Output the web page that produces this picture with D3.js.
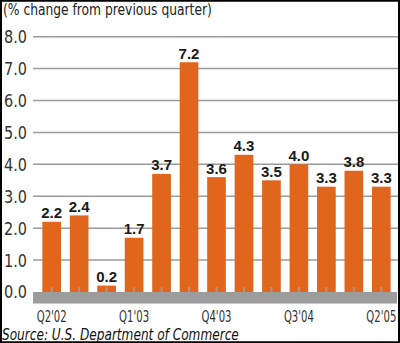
<!DOCTYPE html>
<html>
<head>
<meta charset="utf-8">
<script src="https://cdn.jsdelivr.net/npm/d3@7/dist/d3.min.js"></script>
<style>
  html, body { margin: 0; padding: 0; background: #fff; }
  svg { display: block; }
</style>
</head>
<body>
<script>
const quarters = ["Q2'02","Q3'02","Q4'02","Q1'03","Q2'03","Q3'03","Q4'03","Q1'04","Q2'04","Q3'04","Q4'04","Q1'05","Q2'05"];
const values = [2.2, 2.4, 0.2, 1.7, 3.7, 7.2, 3.6, 4.3, 3.5, 4.0, 3.3, 3.8, 3.3];
const xTickLabels = ["Q2'02","Q1'03","Q4'03","Q3'04","Q2'05"];
const yTicks = [0, 1, 2, 3, 4, 5, 6, 7, 8];
const titleText = "(% change from previous quarter)";
const sourceText = "Source:  U.S. Department of Commerce";

const W = 400, H = 343;
const narrow = "'Liberation Sans Narrow', 'Arial Narrow', 'DejaVu Sans Condensed', sans-serif";
const svg = d3.select("body").append("svg").attr("width", W).attr("height", H);

const x = d3.scaleBand().domain(quarters).range([33, 400]).paddingInner(0.32).paddingOuter(0.34);
const y = d3.scaleLinear().domain([0, 8]).range([292, 36.7]);

// place text at (px,py) and squeeze horizontally to a target width
function fit(sel, px, py, width) {
  sel.each(function(d, i) {
    const t = d3.select(this);
    const nat = this.getComputedTextLength();
    const sx = Math.min(1, width / nat);
    t.attr("x", 0).attr("y", 0)
     .attr("transform", `translate(${px(d, i)},${py(d, i)}) scale(${sx},1)`);
  });
}

// gridlines
svg.append("g").selectAll("line").data(yTicks.filter(d => d > 0)).join("line")
  .attr("x1", 33).attr("x2", 398)
  .attr("y1", d => y(d)).attr("y2", d => y(d))
  .attr("stroke", "#9a9a9a").attr("stroke-width", 1.5);

// y tick labels
svg.append("g").selectAll("text").data(yTicks).join("text")
  .attr("dy", "0.36em")
  .attr("text-anchor", "end")
  .attr("font-family", narrow).attr("font-size", 18).attr("fill", "#333")
  .text(d => d.toFixed(1))
  .call(fit, () => 27, d => y(d), 23);

// bars
svg.append("g").selectAll("rect").data(values).join("rect")
  .attr("x", (d, i) => x(quarters[i]))
  .attr("width", x.bandwidth())
  .attr("y", d => y(d))
  .attr("height", d => y(0) - y(d))
  .attr("fill", "#e0661e");

// baseline band
svg.append("rect")
  .attr("x", 33).attr("width", 364)
  .attr("y", y(0)).attr("height", 11.5)
  .attr("fill", "#9c9c9c");

// notches
svg.append("g").selectAll("rect").data(quarters).join("rect")
  .attr("x", d => x(d) + x.bandwidth() / 2 - 1)
  .attr("width", 2)
  .attr("y", y(0) - 5).attr("height", 5)
  .attr("fill", "#a8a0a0").attr("opacity", 0.75);

// value labels
svg.append("g").selectAll("text").data(values).join("text")
  .attr("x", (d, i) => x(quarters[i]) + x.bandwidth() / 2)
  .attr("y", d => y(d) - 3.5)
  .attr("text-anchor", "middle")
  .attr("font-family", "'Liberation Sans', Arial, sans-serif")
  .attr("font-weight", "bold").attr("font-size", 15).attr("fill", "#1a1a1a")
  .text(d => d.toFixed(1));

// x tick labels
svg.append("g").selectAll("text").data(xTickLabels).join("text")
  .attr("text-anchor", "middle")
  .attr("font-family", narrow).attr("font-size", 15.5).attr("fill", "#333")
  .text(d => d)
  .call(fit, d => x(d) + x.bandwidth() / 2, () => 321.5, 30);

// title
svg.append("text").datum(titleText)
  .attr("font-family", narrow).attr("font-size", 16.5).attr("fill", "#222")
  .text(d => d)
  .call(fit, () => 3, () => 15, 209);

// source
svg.append("text").datum(sourceText)
  .attr("font-family", narrow).attr("font-size", 15).attr("font-style", "italic").attr("fill", "#111")
  .text(d => d)
  .call(fit, () => 2, () => 339.5, 237);

// frame
svg.append("rect")
  .attr("x", 1).attr("y", 0.75).attr("width", 398).attr("height", 341.5)
  .attr("fill", "none").attr("stroke", "#000").attr("stroke-width", 2);
</script>
</body>
</html>
